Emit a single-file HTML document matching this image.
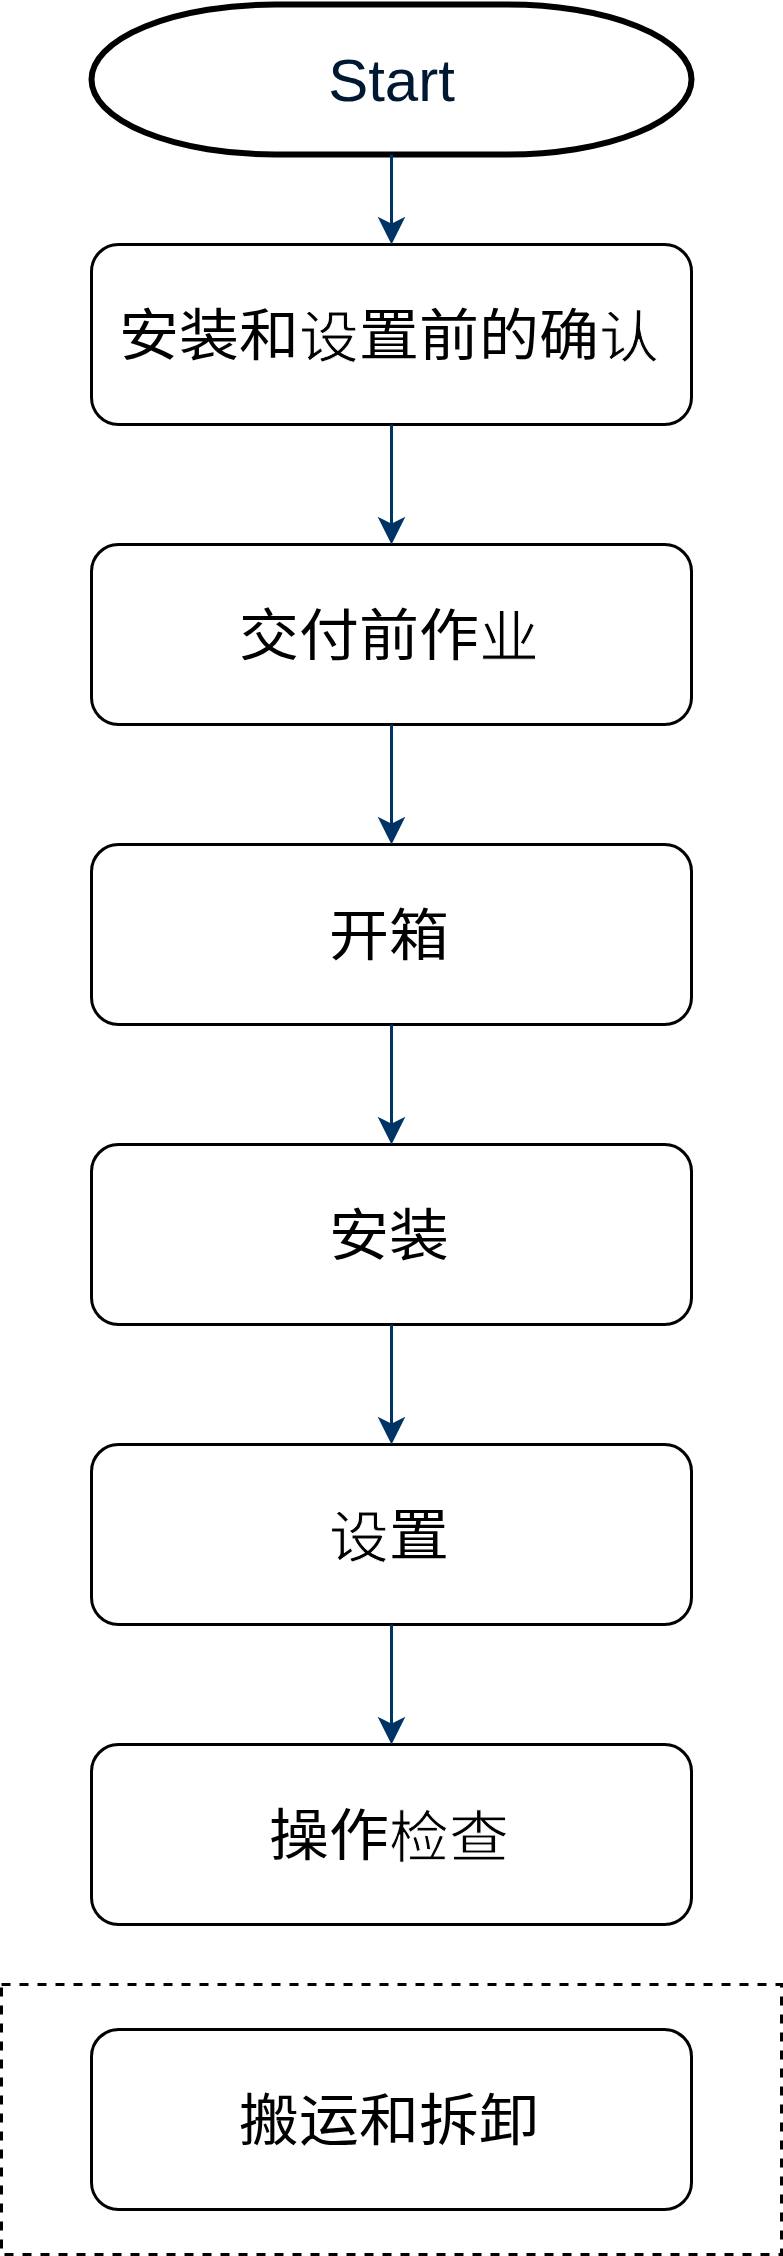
<!DOCTYPE html>
<html lang="zh-CN"><head><meta charset="utf-8">
<style>
html,body{margin:0;padding:0;background:#fff;}
body{width:783px;height:2256px;overflow:hidden;position:relative;}
svg{position:absolute;left:0;top:0;}
.t{font-family:"Liberation Sans",sans-serif;font-size:60px;fill:#000;}
.b{stroke:#000;stroke-width:0.00px;}
.th{stroke:#fff;stroke-width:1.00px;}
</style></head><body>
<svg width="783" height="2256" viewBox="0 0 783 2256">

<path d="M275.17 4.5 L507.83 4.5 A183.67 75 0 0 1 507.83 154.5 L275.17 154.5 A183.67 75 0 0 1 275.17 4.5 Z" fill="#fff" stroke="#000" stroke-width="6"/>
<text x="391.5" y="100.50" text-anchor="middle" class="t" style="fill:#001933">Start</text>
<g fill="#fff" stroke="#000" stroke-width="3">
<rect x="91.5" y="244.5" width="600" height="180" rx="27" ry="27"/>
<rect x="91.5" y="544.5" width="600" height="180" rx="27" ry="27"/>
<rect x="91.5" y="844.5" width="600" height="180" rx="27" ry="27"/>
<rect x="91.5" y="1144.5" width="600" height="180" rx="27" ry="27"/>
<rect x="91.5" y="1444.5" width="600" height="180" rx="27" ry="27"/>
<rect x="91.5" y="1744.5" width="600" height="180" rx="27" ry="27"/>
<rect x="91.5" y="2029.5" width="600" height="180" rx="27" ry="27"/>
</g>
<rect x="1.5" y="1984.5" width="780" height="270" fill="none" stroke="#000" stroke-width="3" stroke-dasharray="9 9"/>
<path d="M391.5 154.5 V225.40" stroke="#003366" stroke-width="3" fill="none"/>
<path d="M391.5 241.15 L381 220.15 L391.5 225.40 L402 220.15 Z" fill="#003366" stroke="#003366" stroke-width="3" stroke-miterlimit="10"/>
<path d="M391.5 424.5 V525.40" stroke="#003366" stroke-width="3" fill="none"/>
<path d="M391.5 541.15 L381 520.15 L391.5 525.40 L402 520.15 Z" fill="#003366" stroke="#003366" stroke-width="3" stroke-miterlimit="10"/>
<path d="M391.5 724.5 V825.40" stroke="#003366" stroke-width="3" fill="none"/>
<path d="M391.5 841.15 L381 820.15 L391.5 825.40 L402 820.15 Z" fill="#003366" stroke="#003366" stroke-width="3" stroke-miterlimit="10"/>
<path d="M391.5 1024.5 V1125.40" stroke="#003366" stroke-width="3" fill="none"/>
<path d="M391.5 1141.15 L381 1120.15 L391.5 1125.40 L402 1120.15 Z" fill="#003366" stroke="#003366" stroke-width="3" stroke-miterlimit="10"/>
<path d="M391.5 1324.5 V1425.40" stroke="#003366" stroke-width="3" fill="none"/>
<path d="M391.5 1441.15 L381 1420.15 L391.5 1425.40 L402 1420.15 Z" fill="#003366" stroke="#003366" stroke-width="3" stroke-miterlimit="10"/>
<path d="M391.5 1624.5 V1725.40" stroke="#003366" stroke-width="3" fill="none"/>
<path d="M391.5 1741.15 L381 1720.15 L391.5 1725.40 L402 1720.15 Z" fill="#003366" stroke="#003366" stroke-width="3" stroke-miterlimit="10"/>
<g transform="translate(-2.30,335.30) scale(1,0.93) translate(0,-334.50)"><text x="391.5" y="356.00" text-anchor="middle" dy="0 0 0 1.8 -1.8 0 0 0 1.8" class="t b">安装和<tspan class="th">设</tspan>置前的确<tspan class="th">认</tspan></text></g>
<g transform="translate(-2.30,635.30) scale(1,0.93) translate(0,-634.50)"><text x="391.5" y="656.00" text-anchor="middle" dy="0 0 0 0 1.8" class="t b">交付前作<tspan class="th">业</tspan></text></g>
<g transform="translate(-2.30,935.30) scale(1,0.93) translate(0,-934.50)"><text x="391.5" y="956.00" text-anchor="middle" dy="0 0" class="t b">开箱</text></g>
<g transform="translate(-2.30,1235.30) scale(1,0.93) translate(0,-1234.50)"><text x="391.5" y="1256.00" text-anchor="middle" dy="0 0" class="t b">安装</text></g>
<g transform="translate(-2.30,1535.30) scale(1,0.93) translate(0,-1534.50)"><text x="391.5" y="1556.00" text-anchor="middle" dy="1.8 -1.8" class="t b"><tspan class="th">设</tspan>置</text></g>
<g transform="translate(-2.30,1835.30) scale(1,0.93) translate(0,-1834.50)"><text x="391.5" y="1856.00" text-anchor="middle" dy="0 0 1.8 0" class="t b">操作<tspan class="th">检</tspan><tspan class="th">查</tspan></text></g>
<g transform="translate(-2.30,2120.30) scale(1,0.93) translate(0,-2119.50)"><text x="391.5" y="2141.00" text-anchor="middle" dy="0 0 0 0 0" class="t b">搬运和拆卸</text></g>
</svg>
</body></html>
